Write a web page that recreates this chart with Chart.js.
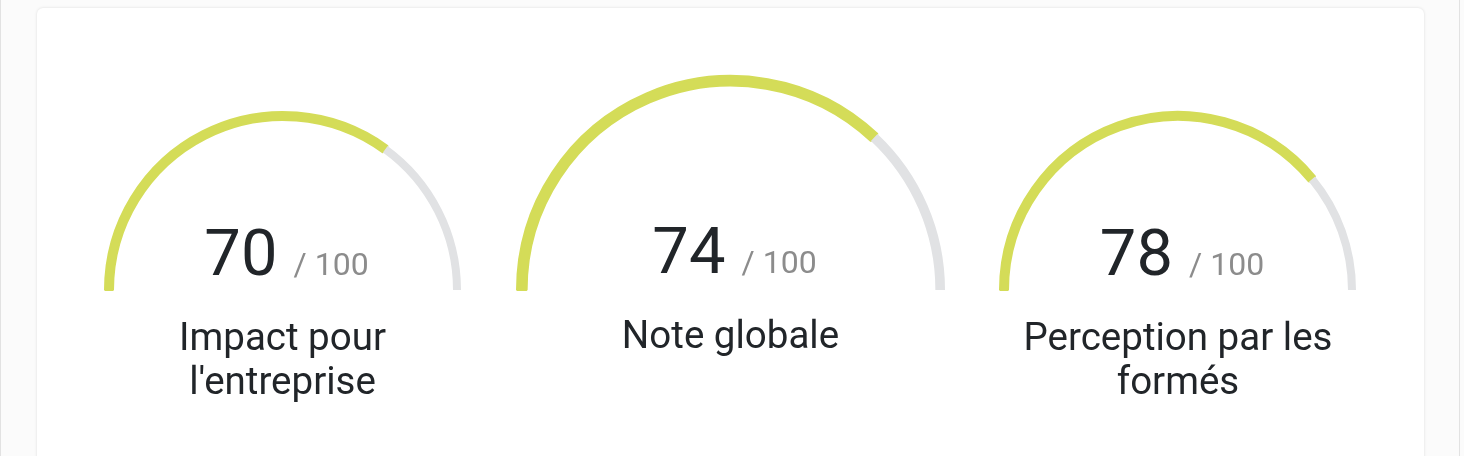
<!DOCTYPE html>
<html lang="fr">
<head>
<meta charset="utf-8">
<title>Scores</title>
<script src="https://cdn.jsdelivr.net/npm/chart.js@4.4.1/dist/chart.umd.min.js"></script>
<style>
  html, body {
    margin: 0;
    padding: 0;
    width: 1464px;
    height: 456px;
    overflow: hidden;
    background: #fbfbfb;
    font-family: Roboto, Arial, sans-serif;
  }
  .cadre {
    position: absolute;
    left: 0;
    top: 0;
    width: 1460px;
    height: 456px;
    border-left: 1px solid #e2e2e2;
    border-right: 1px solid #e2e2e2;
    box-sizing: border-box;
  }
  .carte {
    position: absolute;
    left: 37px;
    top: 8px;
    width: 1387px;
    height: 520px;
    background: #fff;
    border-radius: 6px;
    box-shadow: 0 0 3px rgba(0, 0, 0, 0.13);
  }
  canvas {
    position: absolute;
  }
  .score {
    position: absolute;
    width: 400px;
    text-align: center;
    line-height: 66px;
    white-space: pre;
    color: #212529;
    padding-left: 8px;
    box-sizing: border-box;
  }
  .score .grand {
    font-size: 65px;
  }
  .score .petit {
    font-size: 32px;
    color: #8c8c8c;
  }
  .libelle {
    position: absolute;
    width: 340px;
    text-align: center;
    font-size: 38.5px;
    line-height: 44px;
    color: #212529;
  }
</style>
</head>
<body>
<div class="cadre"></div>
<div class="carte"></div>
<div id="zone"></div>

<script>
// Données des jauges
const libelles = ["Impact pour l'entreprise", 'Note globale', 'Perception par les formés'];
const notes = [70, 74, 78];
const noteMax = 100;

// Couleurs
const VERT = '#d4dc58';
const GRIS = '#e1e2e4';

// Mise en page (centre, rayon, lignes de base du texte)
const disposition = [
  { cx: 282.5, base: 289.5, rayon: 178, yNote: 275, yLibelle: 350 },
  { cx: 730.5, base: 289.5, rayon: 214, yNote: 273.5, yLibelle: 348 },
  { cx: 1178, base: 289.5, rayon: 178, yNote: 275, yLibelle: 350 }
];

function creerJauge(i) {
  const zone = document.getElementById('zone');
  const d = disposition[i];
  const marge = 20;
  const largeur = 2 * d.rayon + marge;
  const hauteur = d.rayon + marge;

  const canvas = document.createElement('canvas');
  canvas.width = largeur;
  canvas.height = hauteur;
  canvas.style.width = largeur + 'px';
  canvas.style.height = hauteur + 'px';
  canvas.style.left = (d.cx - largeur / 2) + 'px';
  // centre vertical d'un demi-anneau = hauteur/2 + rayon/2
  canvas.style.top = (d.base - hauteur / 2 - d.rayon / 2) + 'px';
  zone.appendChild(canvas);

  new Chart(canvas, {
    type: 'doughnut',
    data: {
      labels: ['Note', 'Reste'],
      datasets: [{
        data: [notes[i], noteMax - notes[i]],
        backgroundColor: [VERT, GRIS],
        borderColor: [VERT, GRIS],
        borderWidth: [2, 0]
      }]
    },
    options: {
      responsive: false,
      devicePixelRatio: 1,
      animation: false,
      events: [],
      rotation: -90,
      circumference: 180,
      cutout: '95.5%',
      radius: d.rayon,
      plugins: {
        legend: { display: false },
        tooltip: { enabled: false }
      }
    }
  });

  // Texte de la note : ligne de base = haut + 55.2 pour 65px
  const score = document.createElement('div');
  score.className = 'score';
  score.style.left = (d.cx - 200) + 'px';
  score.style.top = (d.yNote - 55.2) + 'px';
  const grand = document.createElement('span');
  grand.className = 'grand';
  grand.textContent = notes[i] + ' ';
  const petit = document.createElement('span');
  petit.className = 'petit';
  petit.textContent = '/ ' + noteMax;
  score.appendChild(grand);
  score.appendChild(petit);
  zone.appendChild(score);

  const libelle = document.createElement('div');
  libelle.className = 'libelle';
  libelle.style.left = (d.cx - 170) + 'px';
  libelle.style.top = (d.yLibelle - 35.15) + 'px';
  libelle.textContent = libelles[i];
  zone.appendChild(libelle);
}

for (let i = 0; i < notes.length; i++) {
  creerJauge(i);
}
</script>
</body>
</html>
